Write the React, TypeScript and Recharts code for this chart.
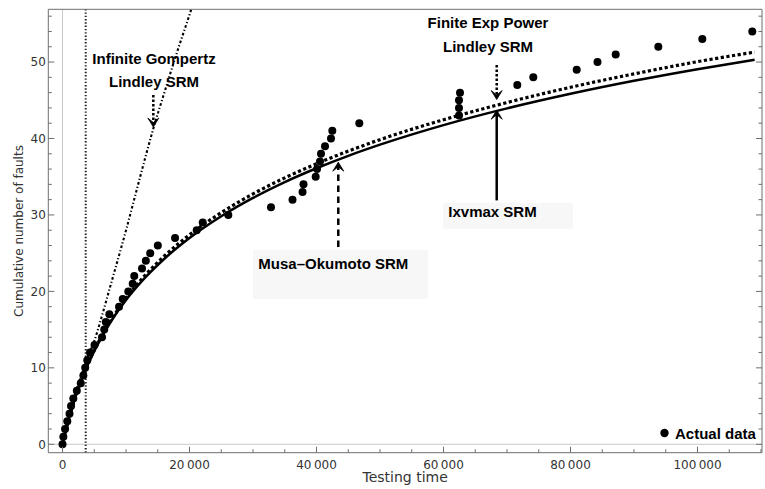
import React from 'react';
import {
  ComposedChart,
  Line,
  Scatter,
  XAxis,
  YAxis,
  ReferenceLine,
  ReferenceDot,
  ReferenceArea,
  Legend,
  Label,
} from 'recharts';

// ---------- data ----------
const faultCounts = [
  0, 1, 2, 3, 4, 5, 6, 7, 8, 9, 10, 11, 12, 13, 14, 15, 16, 17, 18, 19, 20, 21, 22, 23, 24, 25, 26, 27,
  28, 29, 30, 31, 32, 33, 34, 35, 36, 37, 38, 39, 40, 41, 42, 43, 44, 45, 46, 47, 48, 49, 50, 51, 52, 53, 54,
];
const faultTimes = [
  0, 130, 400, 750, 1100, 1340, 1700, 2250, 2870, 3280, 3570, 3900, 4330, 5040, 6220, 6570, 6820, 7370,
  8900, 9480, 10360, 11050, 11300, 12520, 13120, 13810, 15010, 17720, 21130, 22080, 26110, 32830, 36220,
  37800, 37950, 39870, 40080, 40550, 40710, 41340, 42280, 42490, 46740, 62440, 62440, 62440, 62600, 71620,
  74140, 80980, 84250, 87120, 93830, 100760, 108630,
];

const modelTimes = [
  0, 1000, 2000, 3000, 4000, 6000, 8000, 10000, 13000, 16000, 20000, 25000, 30000, 35000, 40000, 45000,
  50000, 60000, 70000, 80000, 90000, 100000, 109000,
];
const ixvmaxValues = [
  0, 3.36, 6.11, 8.43, 10.44, 13.8, 16.55, 18.87, 21.79, 24.24, 26.98, 29.83, 32.23, 34.3, 36.11, 37.73,
  39.19, 41.75, 43.94, 45.85, 47.55, 49.07, 50.31,
];
const finiteExpPowerValues = [
  0, 3.36, 6.11, 8.43, 10.5, 13.9, 16.7, 19.1, 22.1, 24.6, 27.4, 30.3, 32.75, 34.85, 36.7, 38.35, 39.85,
  42.45, 44.7, 46.7, 48.45, 50.05, 51.3,
];

const gompertzTimes = [0, 1000, 2000, 3000, 4000, 5000, 6000, 7500, 9000, 10000, 11500, 13000, 14300, 16000, 18000, 20000, 21000];
const gompertzValues = [0, 3.5, 6.6, 9.1, 11.5, 13.5, 16.2, 20.6, 25, 28, 32.7, 37.4, 41.3, 45.9, 51.2, 56.2, 58.8];

const asymptoteTime = 3650;

const xTicks = [0, 5000, 10000, 15000, 20000, 25000, 30000, 35000, 40000, 45000, 50000, 55000, 60000, 65000, 70000, 75000, 80000, 85000, 90000, 95000, 100000, 105000, 110000];
const xMajorTicks = [0, 20000, 40000, 60000, 80000, 100000];
const yTicks = [0, 2, 4, 6, 8, 10, 12, 14, 16, 18, 20, 22, 24, 26, 28, 30, 32, 34, 36, 38, 40, 42, 44, 46, 48, 50, 52, 54, 56];
const yMajorTicks = [0, 10, 20, 30, 40, 50];

const xDomain = [-2240, 110160];
const yDomain = [-1.1, 56.9];

// annotations (data coordinates)
const gompertzLabel = { x: 14410, y: 50.4, lines: ['Infinite Gompertz', 'Lindley SRM'] };
const finiteLabel = { x: 67010, y: 55.2, lines: ['Finite Exp Power', 'Lindley SRM'] };
const ixvmaxLabel = { x: 67720, y: 30.4, lines: ['Ixvmax SRM'] };
const musaLabel = { x: 42650, y: 23.6, lines: ['Musa\u2013Okumoto SRM'] };

const gompertzArrow = { x: 14300, from: 45.7, to: 41.5 };
const finiteArrow = { x: 68380, from: 49.6, to: 45.1 };
const ixvmaxArrow = { x: 68380, from: 31.9, to: 43.7 };
const musaArrow = { x: 43430, from: 25.8, to: 36.9 };

const musaBox = { x1: 30000, x2: 57560, y1: 19.0, y2: 25.4 };
const ixvmaxBox = { x1: 59920, x2: 80390, y1: 28.2, y2: 31.6 };

// ---------- derived tables ----------
const actualData = faultTimes.map((t, i) => ({ x: t, y: faultCounts[i] }));
const ixvmaxData = modelTimes.map((t, i) => ({ x: t, y: ixvmaxValues[i] }));
const finiteData = modelTimes.map((t, i) => ({ x: t, y: finiteExpPowerValues[i] }));
const gompertzData = gompertzTimes.map((t, i) => ({ x: t, y: gompertzValues[i] }));

// ---------- styles ----------
const FRAME = '#6e6e6e';
const TICK_TEXT = '#333';
const AXIS_FONT = '"DejaVu Sans", sans-serif';
const ANNOT_FONT = '"Liberation Sans", Arial, sans-serif';

const fmtX = (v: number) => {
  if (v < 1000) return String(v);
  const th = Math.floor(v / 1000);
  const rest = String(v % 1000).padStart(3, '0');
  return `${th}\u2009${rest}`;
};

const BottomTick = (props: any) => {
  const { x, y, payload } = props;
  const major = xMajorTicks.includes(payload.value);
  return (
    <g>
      <line x1={x} x2={x} y1={y} y2={y - (major ? 6 : 3.5)} stroke={FRAME} strokeWidth={1} />
      {major && (
        <text x={x} y={y + 16} textAnchor="middle" fontFamily={AXIS_FONT} fontSize={12} fill={TICK_TEXT}>
          {fmtX(payload.value)}
        </text>
      )}
    </g>
  );
};

const TopTick = (props: any) => {
  const { x, y, payload } = props;
  const major = xMajorTicks.includes(payload.value);
  return <line x1={x} x2={x} y1={y} y2={y + (major ? 6 : 3.5)} stroke={FRAME} strokeWidth={1} />;
};

const LeftTick = (props: any) => {
  const { x, y, payload } = props;
  const major = yMajorTicks.includes(payload.value);
  return (
    <g>
      <line x1={x} x2={x + (major ? 6 : 3.5)} y1={y} y2={y} stroke={FRAME} strokeWidth={1} />
      {major && (
        <text x={x - 2.5} y={y + 4.4} textAnchor="end" fontFamily={AXIS_FONT} fontSize={12} fill={TICK_TEXT}>
          {payload.value}
        </text>
      )}
    </g>
  );
};

const RightTick = (props: any) => {
  const { x, y, payload } = props;
  const major = yMajorTicks.includes(payload.value);
  return <line x1={x} x2={x - (major ? 6 : 3.5)} y1={y} y2={y} stroke={FRAME} strokeWidth={1} />;
};

const textBlock = (lines: string[], spacing = 22.6) => (props: any) => {
  const vb = props.viewBox || {};
  const cx = (vb.x ?? 0) + (vb.width ?? 0) / 2;
  const cy = (vb.y ?? 0) + (vb.height ?? 0) / 2;
  return (
    <text x={cx} y={cy} textAnchor="middle" fontFamily={ANNOT_FONT} fontWeight="bold" fontSize={15} fill="#000">
      {lines.map((l, i) => (
        <tspan key={i} x={cx} dy={i === 0 ? 5.4 : spacing}>
          {l}
        </tspan>
      ))}
    </text>
  );
};

const makeArrow = (dash: string | undefined, width: number) => (p: any) => {
  const { x1, y1, x2, y2 } = p;
  const ang = Math.atan2(y2 - y1, x2 - x1);
  const ux = Math.cos(ang);
  const uy = Math.sin(ang);
  const px = -uy;
  const py = ux;
  const len = 9;
  const half = 5.5;
  const notch = 4.5;
  const bx = x2 - ux * len;
  const by = y2 - uy * len;
  const nx = x2 - ux * notch;
  const ny = y2 - uy * notch;
  const d = `M${x2},${y2} L${bx + px * half},${by + py * half} L${nx},${ny} L${bx - px * half},${by - py * half} Z`;
  return (
    <g>
      <line x1={x1} y1={y1} x2={nx} y2={ny} stroke="#000" strokeWidth={width} strokeDasharray={dash} />
      <path d={d} fill="#000" stroke="#000" strokeWidth={0.8} strokeLinejoin="miter" />
    </g>
  );
};

const LegendContent = () => (
  <div style={{ display: 'flex', alignItems: 'center', height: 20 }}>
    <svg width={11} height={20} style={{ display: 'block' }}>
      <circle cx={5.5} cy={10} r={4.2} fill="#000" />
    </svg>
    <span style={{ marginLeft: 5, font: `bold 15px ${ANNOT_FONT}`, color: '#000', whiteSpace: 'nowrap' }}>
      Actual data
    </span>
  </div>
);

export default function App() {
  return (
    <div style={{ position: 'absolute', left: 0, top: 0, width: 765, height: 489, background: '#fff' }}>
      <ComposedChart width={765} height={489} margin={{ top: 4, right: 0, bottom: 0, left: 0 }}>
        <XAxis
          xAxisId={0}
          dataKey="x"
          type="number"
          domain={xDomain}
          allowDataOverflow
          ticks={xTicks}
          interval={0}
          height={36.3}
          tickSize={0}
          tickMargin={0}
          tickLine={false}
          tick={<BottomTick />}
          axisLine={{ stroke: FRAME, strokeWidth: 1 }}
        >
          <Label
            content={(p: any) => {
              const vb = p.viewBox || {};
              return (
                <text
                  x={(vb.x ?? 0) + (vb.width ?? 0) / 2}
                  y={(vb.y ?? 0) + 29.5}
                  textAnchor="middle"
                  fontFamily={AXIS_FONT}
                  fontSize={14}
                  fill="#333"
                >
                  Testing time
                </text>
              );
            }}
          />
        </XAxis>
        <XAxis
          xAxisId="top"
          orientation="top"
          type="number"
          domain={xDomain}
          allowDataOverflow
          ticks={xTicks}
          interval={0}
          height={5.3}
          tickSize={0}
          tickMargin={0}
          tickLine={false}
          tick={<TopTick />}
          axisLine={{ stroke: FRAME, strokeWidth: 1 }}
        />
        <YAxis
          yAxisId={0}
          dataKey="y"
          type="number"
          domain={yDomain}
          allowDataOverflow
          ticks={yTicks}
          interval={0}
          width={48.3}
          tickSize={0}
          tickMargin={0}
          tickLine={false}
          tick={<LeftTick />}
          axisLine={{ stroke: FRAME, strokeWidth: 1 }}
        >
          <Label
            content={(p: any) => {
              const vb = p.viewBox || {};
              const cy = (vb.y ?? 0) + (vb.height ?? 0) / 2;
              const cx = 22.5;
              return (
                <text
                  x={cx}
                  y={cy}
                  transform={`rotate(-90 ${cx} ${cy})`}
                  textAnchor="middle"
                  fontFamily={AXIS_FONT}
                  fontSize={12}
                  fill="#333"
                >
                  Cumulative number of faults
                </text>
              );
            }}
          />
        </YAxis>
        <YAxis
          yAxisId="right"
          orientation="right"
          type="number"
          domain={yDomain}
          allowDataOverflow
          ticks={yTicks}
          interval={0}
          width={3}
          tickSize={0}
          tickMargin={0}
          tickLine={false}
          tick={<RightTick />}
          axisLine={{ stroke: FRAME, strokeWidth: 1 }}
        />

        <ReferenceArea x1={musaBox.x1} x2={musaBox.x2} y1={musaBox.y1} y2={musaBox.y2} fill="#f7f7f7" fillOpacity={1} stroke="none" />
        <ReferenceArea x1={ixvmaxBox.x1} x2={ixvmaxBox.x2} y1={ixvmaxBox.y1} y2={ixvmaxBox.y2} fill="#f7f7f7" fillOpacity={1} stroke="none" />

        <ReferenceLine x={0} stroke="#c8c8c8" strokeWidth={1} />
        <ReferenceLine y={0} stroke="#c8c8c8" strokeWidth={1} />
        <ReferenceLine x={asymptoteTime} stroke="#222" strokeWidth={2} strokeDasharray="1.4 1.9" />

        <Line
          data={gompertzData}
          dataKey="y"
          type="monotone"
          stroke="#000"
          strokeWidth={2.1}
          strokeDasharray="2.6 2.2 1.2 2.2"
          dot={false}
          activeDot={false}
          isAnimationActive={false}
        />
        <Line
          data={ixvmaxData}
          dataKey="y"
          type="monotone"
          stroke="#000"
          strokeWidth={2.5}
          dot={false}
          activeDot={false}
          isAnimationActive={false}
        />
        <Line
          data={finiteData}
          dataKey="y"
          type="monotone"
          stroke="#000"
          strokeWidth={3.2}
          strokeDasharray="3.2 2.5"
          dot={false}
          activeDot={false}
          isAnimationActive={false}
        />
        <Scatter
          data={actualData}
          dataKey="y"
          isAnimationActive={false}
          shape={(p: any) => <circle cx={p.cx} cy={p.cy} r={4} fill="#000" />}
        />

        <ReferenceLine
          segment={[{ x: gompertzArrow.x, y: gompertzArrow.from }, { x: gompertzArrow.x, y: gompertzArrow.to }]}
          shape={makeArrow('2.5 2', 2.5)}
        />
        <ReferenceLine
          segment={[{ x: finiteArrow.x, y: finiteArrow.from }, { x: finiteArrow.x, y: finiteArrow.to }]}
          shape={makeArrow('2.5 2', 2.5)}
        />
        <ReferenceLine
          segment={[{ x: ixvmaxArrow.x, y: ixvmaxArrow.from }, { x: ixvmaxArrow.x, y: ixvmaxArrow.to }]}
          shape={makeArrow(undefined, 2.5)}
        />
        <ReferenceLine
          segment={[{ x: musaArrow.x, y: musaArrow.from }, { x: musaArrow.x, y: musaArrow.to }]}
          shape={makeArrow('6.5 4.5', 2.5)}
        />

        <ReferenceDot x={gompertzLabel.x} y={gompertzLabel.y} r={0} fill="none" stroke="none" label={textBlock(gompertzLabel.lines)} />
        <ReferenceDot x={finiteLabel.x} y={finiteLabel.y} r={0} fill="none" stroke="none" label={textBlock(finiteLabel.lines, 24)} />
        <ReferenceDot x={ixvmaxLabel.x} y={ixvmaxLabel.y} r={0} fill="none" stroke="none" label={textBlock(ixvmaxLabel.lines)} />
        <ReferenceDot x={musaLabel.x} y={musaLabel.y} r={0} fill="none" stroke="none" label={textBlock(musaLabel.lines)} />

        <Legend
          layout="horizontal"
          verticalAlign="middle"
          align="center"
          wrapperStyle={{ position: 'absolute', left: 659, top: 423, width: 105, height: 20 }}
          content={() => <LegendContent />}
        />
      </ComposedChart>
    </div>
  );
}
